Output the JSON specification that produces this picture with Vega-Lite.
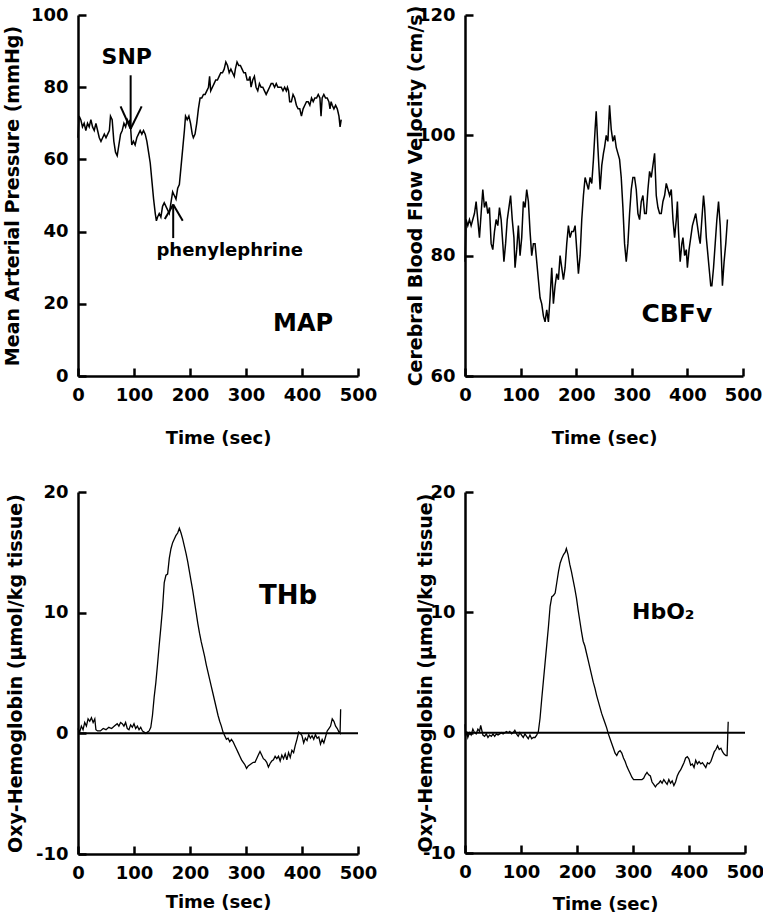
{
"$schema": "https://vega.github.io/schema/vega-lite/v6.json",
"padding": {"left": 2, "top": 5, "right": 0, "bottom": 0},
"background": "white",
"config": {
  "view": {"stroke": null},
  "axis": {"domainColor": "black", "domainWidth": 2.5, "tickColor": "black", "tickWidth": 2.5, "tickSize": -8, "labelPadding": 18, "labelFont": "DejaVu Sans", "labelFontWeight": "bold", "labelFontSize": 18, "labelColor": "black", "labelFlush": false, "labelOverlap": false, "labelBound": false, "titleFont": "DejaVu Sans", "titleFontWeight": "bold", "titleFontSize": 18, "titleColor": "black", "grid": false},
  "axisY": {"titleFontSize": 19}
},
"datasets": {
  "map": [{"t":0,"v":66},{"t":2,"v":72},{"t":5,"v":71},{"t":8,"v":69},{"t":11,"v":70},{"t":14,"v":68},{"t":17,"v":70},{"t":20,"v":69},{"t":23,"v":71},{"t":26,"v":69},{"t":29,"v":68},{"t":32,"v":70},{"t":35,"v":68},{"t":38,"v":66},{"t":41,"v":65},{"t":44,"v":66},{"t":47,"v":67},{"t":50,"v":66},{"t":53,"v":67},{"t":56,"v":68},{"t":58,"v":72},{"t":61,"v":71},{"t":64,"v":65},{"t":67,"v":62},{"t":70,"v":61},{"t":73,"v":64},{"t":76,"v":67},{"t":79,"v":68},{"t":82,"v":70},{"t":85,"v":69},{"t":88,"v":71},{"t":91,"v":70},{"t":93,"v":71},{"t":96,"v":64},{"t":99,"v":65},{"t":102,"v":64},{"t":105,"v":66},{"t":108,"v":67},{"t":111,"v":68},{"t":114,"v":67},{"t":117,"v":68},{"t":120,"v":67},{"t":123,"v":65},{"t":126,"v":62},{"t":129,"v":59},{"t":132,"v":54},{"t":135,"v":49},{"t":138,"v":45},{"t":140,"v":43},{"t":142,"v":44},{"t":145,"v":45},{"t":148,"v":44},{"t":151,"v":47},{"t":154,"v":48},{"t":157,"v":47},{"t":160,"v":46},{"t":163,"v":45},{"t":166,"v":48},{"t":169,"v":51},{"t":172,"v":50},{"t":175,"v":49},{"t":178,"v":52},{"t":181,"v":53},{"t":184,"v":58},{"t":187,"v":63},{"t":190,"v":68},{"t":192,"v":72},{"t":195,"v":71},{"t":198,"v":72},{"t":201,"v":70},{"t":204,"v":67},{"t":206,"v":66},{"t":209,"v":67},{"t":212,"v":70},{"t":215,"v":74},{"t":218,"v":77},{"t":221,"v":77},{"t":224,"v":78},{"t":227,"v":78},{"t":230,"v":79},{"t":233,"v":80},{"t":235,"v":83},{"t":237,"v":79},{"t":240,"v":80},{"t":243,"v":81},{"t":246,"v":82},{"t":249,"v":82},{"t":252,"v":83},{"t":255,"v":84},{"t":258,"v":84},{"t":261,"v":85},{"t":264,"v":87},{"t":267,"v":86},{"t":270,"v":84},{"t":273,"v":85},{"t":276,"v":84},{"t":279,"v":83},{"t":281,"v":85},{"t":284,"v":87},{"t":287,"v":86},{"t":290,"v":86},{"t":293,"v":85},{"t":296,"v":84},{"t":299,"v":84},{"t":302,"v":82},{"t":305,"v":82},{"t":307,"v":83},{"t":309,"v":80},{"t":312,"v":82},{"t":315,"v":83},{"t":318,"v":80},{"t":321,"v":79},{"t":324,"v":81},{"t":327,"v":80},{"t":330,"v":80},{"t":333,"v":79},{"t":336,"v":78},{"t":339,"v":79},{"t":342,"v":80},{"t":345,"v":81},{"t":348,"v":81},{"t":351,"v":80},{"t":354,"v":81},{"t":357,"v":80},{"t":360,"v":80},{"t":363,"v":80},{"t":366,"v":79},{"t":369,"v":80},{"t":372,"v":79},{"t":374,"v":80},{"t":376,"v":79},{"t":378,"v":76},{"t":381,"v":76},{"t":384,"v":78},{"t":387,"v":77},{"t":390,"v":75},{"t":393,"v":74},{"t":396,"v":74},{"t":399,"v":72},{"t":402,"v":74},{"t":405,"v":75},{"t":408,"v":76},{"t":411,"v":76},{"t":414,"v":75},{"t":417,"v":77},{"t":420,"v":76},{"t":423,"v":77},{"t":426,"v":77},{"t":429,"v":78},{"t":432,"v":77},{"t":434,"v":72},{"t":436,"v":77},{"t":439,"v":78},{"t":442,"v":77},{"t":445,"v":77},{"t":448,"v":76},{"t":450,"v":74},{"t":452,"v":76},{"t":454,"v":75},{"t":457,"v":74},{"t":460,"v":75},{"t":463,"v":74},{"t":466,"v":72},{"t":468,"v":69},{"t":470,"v":71}],
  "cbfv": [{"t":0,"v":79},{"t":2,"v":86},{"t":5,"v":85},{"t":8,"v":86},{"t":11,"v":85},{"t":14,"v":86},{"t":17,"v":87},{"t":20,"v":89},{"t":23,"v":86},{"t":26,"v":83},{"t":29,"v":87},{"t":32,"v":91},{"t":35,"v":88},{"t":38,"v":89},{"t":41,"v":87},{"t":44,"v":88},{"t":47,"v":82},{"t":50,"v":81},{"t":53,"v":84},{"t":56,"v":86},{"t":59,"v":85},{"t":62,"v":88},{"t":65,"v":86},{"t":68,"v":82},{"t":70,"v":79},{"t":73,"v":82},{"t":76,"v":86},{"t":79,"v":88},{"t":82,"v":90},{"t":85,"v":86},{"t":88,"v":83},{"t":90,"v":78},{"t":93,"v":81},{"t":96,"v":85},{"t":99,"v":80},{"t":102,"v":83},{"t":105,"v":89},{"t":108,"v":88},{"t":111,"v":91},{"t":114,"v":89},{"t":117,"v":84},{"t":120,"v":80},{"t":123,"v":82},{"t":126,"v":82},{"t":129,"v":79},{"t":132,"v":76},{"t":135,"v":73},{"t":138,"v":72},{"t":141,"v":70},{"t":144,"v":69},{"t":147,"v":71},{"t":150,"v":69},{"t":153,"v":73},{"t":156,"v":78},{"t":159,"v":72},{"t":162,"v":75},{"t":165,"v":77},{"t":168,"v":76},{"t":171,"v":80},{"t":174,"v":78},{"t":177,"v":76},{"t":180,"v":78},{"t":183,"v":82},{"t":186,"v":85},{"t":189,"v":83},{"t":192,"v":84},{"t":195,"v":84},{"t":198,"v":85},{"t":201,"v":81},{"t":204,"v":77},{"t":207,"v":80},{"t":210,"v":86},{"t":213,"v":90},{"t":216,"v":93},{"t":219,"v":92},{"t":222,"v":91},{"t":225,"v":93},{"t":228,"v":92},{"t":231,"v":96},{"t":234,"v":101},{"t":236,"v":104},{"t":239,"v":98},{"t":243,"v":91},{"t":246,"v":95},{"t":249,"v":97},{"t":251,"v":98},{"t":254,"v":100},{"t":257,"v":99},{"t":260,"v":105},{"t":263,"v":101},{"t":266,"v":99},{"t":269,"v":100},{"t":272,"v":98},{"t":275,"v":97},{"t":278,"v":96},{"t":281,"v":93},{"t":284,"v":88},{"t":287,"v":82},{"t":290,"v":79},{"t":293,"v":82},{"t":296,"v":87},{"t":299,"v":91},{"t":302,"v":93},{"t":305,"v":93},{"t":308,"v":91},{"t":311,"v":87},{"t":314,"v":86},{"t":317,"v":89},{"t":320,"v":90},{"t":323,"v":87},{"t":326,"v":87},{"t":329,"v":91},{"t":332,"v":94},{"t":335,"v":93},{"t":338,"v":95},{"t":341,"v":97},{"t":344,"v":90},{"t":347,"v":88},{"t":350,"v":87},{"t":353,"v":87},{"t":356,"v":89},{"t":359,"v":90},{"t":362,"v":92},{"t":365,"v":91},{"t":368,"v":90},{"t":371,"v":91},{"t":374,"v":86},{"t":377,"v":83},{"t":380,"v":86},{"t":382,"v":89},{"t":384,"v":84},{"t":387,"v":79},{"t":390,"v":82},{"t":392,"v":83},{"t":395,"v":80},{"t":398,"v":81},{"t":400,"v":78},{"t":403,"v":81},{"t":406,"v":83},{"t":409,"v":85},{"t":412,"v":86},{"t":415,"v":87},{"t":418,"v":85},{"t":421,"v":83},{"t":423,"v":82},{"t":426,"v":86},{"t":429,"v":90},{"t":431,"v":88},{"t":434,"v":83},{"t":436,"v":81},{"t":439,"v":78},{"t":442,"v":75},{"t":444,"v":75},{"t":447,"v":78},{"t":450,"v":82},{"t":453,"v":86},{"t":456,"v":89},{"t":459,"v":85},{"t":461,"v":80},{"t":463,"v":75},{"t":466,"v":79},{"t":469,"v":82},{"t":472,"v":86}],
  "thb": [{"t":0,"v":0.4},{"t":3,"v":0.1},{"t":6,"v":0.6},{"t":9,"v":0.3},{"t":12,"v":0.9},{"t":15,"v":0.6},{"t":18,"v":1.2},{"t":21,"v":1.0},{"t":24,"v":1.3},{"t":27,"v":0.9},{"t":30,"v":1.2},{"t":32,"v":0.3},{"t":35,"v":0.2},{"t":40,"v":0.2},{"t":45,"v":0.4},{"t":50,"v":0.3},{"t":55,"v":0.5},{"t":60,"v":0.4},{"t":65,"v":0.6},{"t":70,"v":0.8},{"t":73,"v":0.6},{"t":76,"v":0.9},{"t":79,"v":0.8},{"t":82,"v":0.6},{"t":85,"v":0.9},{"t":88,"v":0.4},{"t":91,"v":0.3},{"t":94,"v":0.7},{"t":97,"v":0.5},{"t":100,"v":0.8},{"t":103,"v":0.4},{"t":106,"v":0.6},{"t":109,"v":0.3},{"t":112,"v":0.5},{"t":115,"v":0.2},{"t":118,"v":0.1},{"t":121,"v":0.0},{"t":124,"v":0.1},{"t":127,"v":0.2},{"t":130,"v":0.5},{"t":133,"v":1.5},{"t":136,"v":3.0},{"t":139,"v":4.2},{"t":142,"v":5.7},{"t":145,"v":7.3},{"t":148,"v":8.8},{"t":151,"v":10.4},{"t":154,"v":12.5},{"t":157,"v":13.1},{"t":160,"v":13.2},{"t":163,"v":14.5},{"t":166,"v":15.3},{"t":169,"v":15.8},{"t":172,"v":16.1},{"t":175,"v":16.4},{"t":178,"v":16.6},{"t":181,"v":17.0},{"t":184,"v":16.6},{"t":187,"v":16.1},{"t":190,"v":15.5},{"t":193,"v":14.9},{"t":196,"v":14.2},{"t":199,"v":13.4},{"t":202,"v":12.6},{"t":205,"v":11.8},{"t":208,"v":10.9},{"t":211,"v":10.0},{"t":214,"v":9.1},{"t":217,"v":8.3},{"t":220,"v":7.6},{"t":223,"v":7.0},{"t":226,"v":6.4},{"t":229,"v":5.7},{"t":232,"v":5.1},{"t":235,"v":4.5},{"t":238,"v":3.9},{"t":241,"v":3.3},{"t":244,"v":2.7},{"t":247,"v":2.1},{"t":250,"v":1.5},{"t":253,"v":1.0},{"t":256,"v":0.6},{"t":259,"v":0.1},{"t":262,"v":-0.2},{"t":265,"v":-0.5},{"t":268,"v":-0.4},{"t":271,"v":-0.7},{"t":274,"v":-0.5},{"t":277,"v":-0.7},{"t":280,"v":-1.0},{"t":283,"v":-1.3},{"t":286,"v":-1.6},{"t":289,"v":-1.9},{"t":292,"v":-2.2},{"t":295,"v":-2.4},{"t":298,"v":-2.6},{"t":301,"v":-2.9},{"t":304,"v":-2.7},{"t":307,"v":-2.6},{"t":310,"v":-2.5},{"t":313,"v":-2.4},{"t":316,"v":-2.4},{"t":319,"v":-2.1},{"t":322,"v":-1.8},{"t":325,"v":-1.5},{"t":328,"v":-1.8},{"t":331,"v":-2.1},{"t":334,"v":-2.2},{"t":337,"v":-2.4},{"t":340,"v":-2.8},{"t":343,"v":-2.5},{"t":346,"v":-2.3},{"t":349,"v":-2.2},{"t":352,"v":-1.9},{"t":355,"v":-2.1},{"t":358,"v":-1.9},{"t":361,"v":-2.3},{"t":364,"v":-1.8},{"t":367,"v":-2.1},{"t":370,"v":-1.7},{"t":373,"v":-2.2},{"t":376,"v":-1.6},{"t":379,"v":-2.0},{"t":382,"v":-1.4},{"t":385,"v":-1.6},{"t":388,"v":-1.0},{"t":391,"v":-0.5},{"t":394,"v":0.1},{"t":397,"v":0.0},{"t":400,"v":-0.2},{"t":403,"v":-0.8},{"t":406,"v":-0.4},{"t":409,"v":-0.6},{"t":412,"v":-0.1},{"t":415,"v":-0.4},{"t":418,"v":-0.2},{"t":421,"v":-0.5},{"t":424,"v":-0.1},{"t":427,"v":-0.4},{"t":430,"v":-0.3},{"t":433,"v":-0.9},{"t":436,"v":-0.5},{"t":439,"v":-0.8},{"t":442,"v":-0.3},{"t":445,"v":0.2},{"t":448,"v":0.4},{"t":451,"v":0.6},{"t":454,"v":1.2},{"t":457,"v":1.0},{"t":460,"v":0.6},{"t":463,"v":0.4},{"t":466,"v":0.1},{"t":468,"v":0.0},{"t":469,"v":2.0}],
  "hbo2": [{"t":0,"v":0.7},{"t":1,"v":-0.3},{"t":3,"v":0.1},{"t":5,"v":-0.4},{"t":8,"v":0.0},{"t":11,"v":-0.2},{"t":14,"v":0.3},{"t":17,"v":0.0},{"t":20,"v":-0.1},{"t":23,"v":0.3},{"t":26,"v":0.1},{"t":28,"v":0.6},{"t":30,"v":0.2},{"t":32,"v":-0.2},{"t":35,"v":-0.3},{"t":38,"v":-0.1},{"t":41,"v":-0.4},{"t":44,"v":-0.2},{"t":47,"v":-0.3},{"t":50,"v":-0.1},{"t":53,"v":-0.3},{"t":56,"v":-0.1},{"t":59,"v":-0.2},{"t":62,"v":-0.1},{"t":65,"v":0.0},{"t":68,"v":-0.1},{"t":71,"v":0.0},{"t":74,"v":0.1},{"t":77,"v":0.0},{"t":80,"v":0.1},{"t":83,"v":-0.1},{"t":86,"v":0.0},{"t":89,"v":0.2},{"t":92,"v":-0.1},{"t":95,"v":-0.3},{"t":98,"v":0.0},{"t":101,"v":-0.2},{"t":104,"v":-0.4},{"t":107,"v":-0.1},{"t":110,"v":-0.3},{"t":113,"v":-0.5},{"t":116,"v":-0.2},{"t":119,"v":-0.5},{"t":122,"v":-0.4},{"t":125,"v":-0.4},{"t":128,"v":-0.2},{"t":131,"v":0.1},{"t":134,"v":1.2},{"t":137,"v":2.8},{"t":140,"v":4.3},{"t":143,"v":5.8},{"t":146,"v":7.3},{"t":149,"v":8.8},{"t":152,"v":10.5},{"t":155,"v":11.3},{"t":158,"v":11.4},{"t":161,"v":11.6},{"t":164,"v":12.5},{"t":167,"v":13.4},{"t":170,"v":14.1},{"t":173,"v":14.5},{"t":176,"v":14.8},{"t":179,"v":15.0},{"t":181,"v":15.3},{"t":184,"v":14.8},{"t":187,"v":14.0},{"t":190,"v":13.4},{"t":193,"v":12.7},{"t":196,"v":12.0},{"t":199,"v":11.2},{"t":202,"v":10.2},{"t":205,"v":9.3},{"t":208,"v":8.4},{"t":211,"v":7.6},{"t":214,"v":7.2},{"t":217,"v":6.6},{"t":220,"v":6.0},{"t":223,"v":5.4},{"t":226,"v":4.8},{"t":229,"v":4.2},{"t":232,"v":3.7},{"t":235,"v":3.1},{"t":238,"v":2.6},{"t":241,"v":2.1},{"t":244,"v":1.6},{"t":247,"v":1.2},{"t":250,"v":0.8},{"t":253,"v":0.4},{"t":256,"v":-0.1},{"t":259,"v":-0.5},{"t":262,"v":-0.9},{"t":265,"v":-1.3},{"t":268,"v":-1.7},{"t":271,"v":-1.9},{"t":274,"v":-1.6},{"t":277,"v":-1.5},{"t":280,"v":-1.7},{"t":283,"v":-2.1},{"t":286,"v":-2.4},{"t":289,"v":-2.8},{"t":292,"v":-3.1},{"t":295,"v":-3.4},{"t":298,"v":-3.7},{"t":301,"v":-3.9},{"t":304,"v":-3.9},{"t":307,"v":-3.9},{"t":310,"v":-3.9},{"t":313,"v":-3.9},{"t":316,"v":-3.9},{"t":319,"v":-3.8},{"t":322,"v":-3.5},{"t":325,"v":-3.3},{"t":328,"v":-3.5},{"t":331,"v":-3.6},{"t":334,"v":-4.1},{"t":337,"v":-4.3},{"t":340,"v":-4.5},{"t":343,"v":-4.3},{"t":346,"v":-4.2},{"t":349,"v":-4.0},{"t":352,"v":-4.2},{"t":355,"v":-3.9},{"t":358,"v":-4.1},{"t":361,"v":-4.3},{"t":364,"v":-3.9},{"t":367,"v":-4.2},{"t":370,"v":-4.0},{"t":373,"v":-4.4},{"t":376,"v":-4.1},{"t":379,"v":-3.6},{"t":382,"v":-3.3},{"t":385,"v":-3.1},{"t":388,"v":-2.8},{"t":391,"v":-2.5},{"t":394,"v":-2.1},{"t":397,"v":-2.0},{"t":400,"v":-2.2},{"t":403,"v":-2.7},{"t":406,"v":-2.6},{"t":409,"v":-2.9},{"t":412,"v":-2.3},{"t":415,"v":-2.6},{"t":418,"v":-2.4},{"t":421,"v":-2.6},{"t":424,"v":-2.5},{"t":427,"v":-2.7},{"t":430,"v":-2.9},{"t":433,"v":-2.5},{"t":436,"v":-2.6},{"t":439,"v":-2.4},{"t":442,"v":-2.0},{"t":445,"v":-1.6},{"t":448,"v":-1.4},{"t":451,"v":-1.1},{"t":454,"v":-1.4},{"t":457,"v":-1.3},{"t":460,"v":-1.6},{"t":463,"v":-1.8},{"t":466,"v":-1.9},{"t":468,"v":-1.9},{"t":470,"v":0.9}],
  "arrows": [{"t":94,"v":83.3,"t2":94,"v2":68.5},{"t":76,"v":74.7,"t2":94,"v2":68.5},{"t":113.7,"v":74.7,"t2":94,"v2":68.5},{"t":170,"v":38.2,"t2":170,"v2":47.5},{"t":155,"v":43.5,"t2":170,"v2":47.5},{"t":187,"v":43,"t2":170,"v2":47.5}]
},
"columns": 2,
"spacing": {"row": 116, "column": 107},
"bounds": "flush",
"concat": [
    {"width": 280, "height": 361, "layer": [
      {"data": {"name": "map"}, "mark": {"type": "line", "color": "black", "strokeWidth": 1.5},
       "encoding": {
         "x": {"field": "t", "type": "quantitative", "scale": {"domain": [0, 500], "nice": false}, "axis": {"values": [0, 100, 200, 300, 400, 500], "title": "Time (sec)", "titleY": 62, "titleBaseline": "middle"}},
         "y": {"field": "v", "type": "quantitative", "scale": {"domain": [0, 100], "nice": false, "zero": false}, "axis": {"values": [0, 20, 40, 60, 80, 100], "title": "Mean Arterial Pressure (mmHg)", "titleX": -66, "titleBaseline": "middle", "titleAngle": -90}}}},
      {"data": {"name": "arrows"}, "mark": {"type": "rule", "color": "black", "strokeWidth": 2},
       "encoding": {"x": {"field": "t", "type": "quantitative"}, "y": {"field": "v", "type": "quantitative"}, "x2": {"field": "t2"}, "y2": {"field": "v2"}}},
      {"data": {"values": [{"t": 87, "v": 88.4, "label": "SNP"}]}, "mark": {"type": "text", "font": "DejaVu Sans", "fontWeight": "bold", "fontSize": 22, "align": "center", "baseline": "middle", "color": "black"},
       "encoding": {"x": {"field": "t", "type": "quantitative"}, "y": {"field": "v", "type": "quantitative"}, "text": {"field": "label"}}},
      {"data": {"values": [{"t": 271, "v": 34.7, "label": "phenylephrine"}]}, "mark": {"type": "text", "font": "DejaVu Sans", "fontWeight": "bold", "fontSize": 18, "align": "center", "baseline": "middle", "color": "black"},
       "encoding": {"x": {"field": "t", "type": "quantitative"}, "y": {"field": "v", "type": "quantitative"}, "text": {"field": "label"}}},
      {"data": {"values": [{"t": 402, "v": 14.5, "label": "MAP"}]}, "mark": {"type": "text", "font": "DejaVu Sans", "fontWeight": "bold", "fontSize": 24, "align": "center", "baseline": "middle", "color": "black"},
       "encoding": {"x": {"field": "t", "type": "quantitative"}, "y": {"field": "v", "type": "quantitative"}, "text": {"field": "label"}}}
    ]},
    {"width": 278, "height": 361, "layer": [
      {"data": {"name": "cbfv"}, "mark": {"type": "line", "color": "black", "strokeWidth": 1.5},
       "encoding": {
         "x": {"field": "t", "type": "quantitative", "scale": {"domain": [0, 500], "nice": false}, "axis": {"values": [0, 100, 200, 300, 400, 500], "title": "Time (sec)", "titleY": 62, "titleBaseline": "middle"}},
         "y": {"field": "v", "type": "quantitative", "scale": {"domain": [60, 120], "nice": false, "zero": false}, "axis": {"values": [60, 80, 100, 120], "title": "Cerebral Blood Flow Velocity (cm/s)", "titleX": -50, "titleBaseline": "middle", "titleAngle": -90}}}},
      {"data": {"values": [{"t": 381, "v": 70.3, "label": "CBFv"}]}, "mark": {"type": "text", "font": "DejaVu Sans", "fontWeight": "bold", "fontSize": 25, "align": "center", "baseline": "middle", "color": "black"},
       "encoding": {"x": {"field": "t", "type": "quantitative"}, "y": {"field": "v", "type": "quantitative"}, "text": {"field": "label"}}}
    ]},
    {"width": 280, "height": 362, "layer": [
      {"data": {"values": [{"v": 0}]}, "mark": {"type": "rule", "color": "black", "strokeWidth": 2},
       "encoding": {"y": {"field": "v", "type": "quantitative"}}},
      {"data": {"name": "thb"}, "mark": {"type": "line", "color": "black", "strokeWidth": 1.3},
       "encoding": {
         "x": {"field": "t", "type": "quantitative", "scale": {"domain": [0, 500], "nice": false}, "axis": {"values": [0, 100, 200, 300, 400, 500], "title": "Time (sec)", "titleY": 48, "titleBaseline": "middle"}},
         "y": {"field": "v", "type": "quantitative", "scale": {"domain": [-10, 20], "nice": false, "zero": false}, "axis": {"values": [-10, 0, 10, 20], "labelExpr": "replace(datum.label, '−', '-')", "title": "Oxy-Hemoglobin (µmol/kg tissue)", "titleX": -63, "titleBaseline": "middle", "titleAngle": -90}}}},
      {"data": {"values": [{"t": 375, "v": 11.4, "label": "THb"}]}, "mark": {"type": "text", "font": "DejaVu Sans", "fontWeight": "bold", "fontSize": 26, "align": "center", "baseline": "middle", "color": "black"},
       "encoding": {"x": {"field": "t", "type": "quantitative"}, "y": {"field": "v", "type": "quantitative"}, "text": {"field": "label"}}}
    ]},
    {"width": 280, "height": 361, "layer": [
      {"data": {"values": [{"v": 0}]}, "mark": {"type": "rule", "color": "black", "strokeWidth": 2},
       "encoding": {"y": {"field": "v", "type": "quantitative"}}},
      {"data": {"name": "hbo2"}, "mark": {"type": "line", "color": "black", "strokeWidth": 1.3},
       "encoding": {
         "x": {"field": "t", "type": "quantitative", "scale": {"domain": [0, 500], "nice": false}, "axis": {"values": [0, 100, 200, 300, 400, 500], "title": "Time (sec)", "titleY": 51, "titleBaseline": "middle"}},
         "y": {"field": "v", "type": "quantitative", "scale": {"domain": [-10, 20], "nice": false, "zero": false}, "axis": {"values": [-10, 0, 10, 20], "labelExpr": "replace(datum.label, '−', '-')", "title": "Oxy-Hemoglobin (µmol/kg tissue)", "titleX": -40, "titleBaseline": "middle", "titleAngle": -90}}}},
      {"data": {"values": [{"t": 354, "v": 10.0, "label": "HbO₂"}]}, "mark": {"type": "text", "font": "DejaVu Sans", "fontWeight": "bold", "fontSize": 22, "align": "center", "baseline": "middle", "color": "black"},
       "encoding": {"x": {"field": "t", "type": "quantitative"}, "y": {"field": "v", "type": "quantitative"}, "text": {"field": "label"}}}
    ]}
]
}
